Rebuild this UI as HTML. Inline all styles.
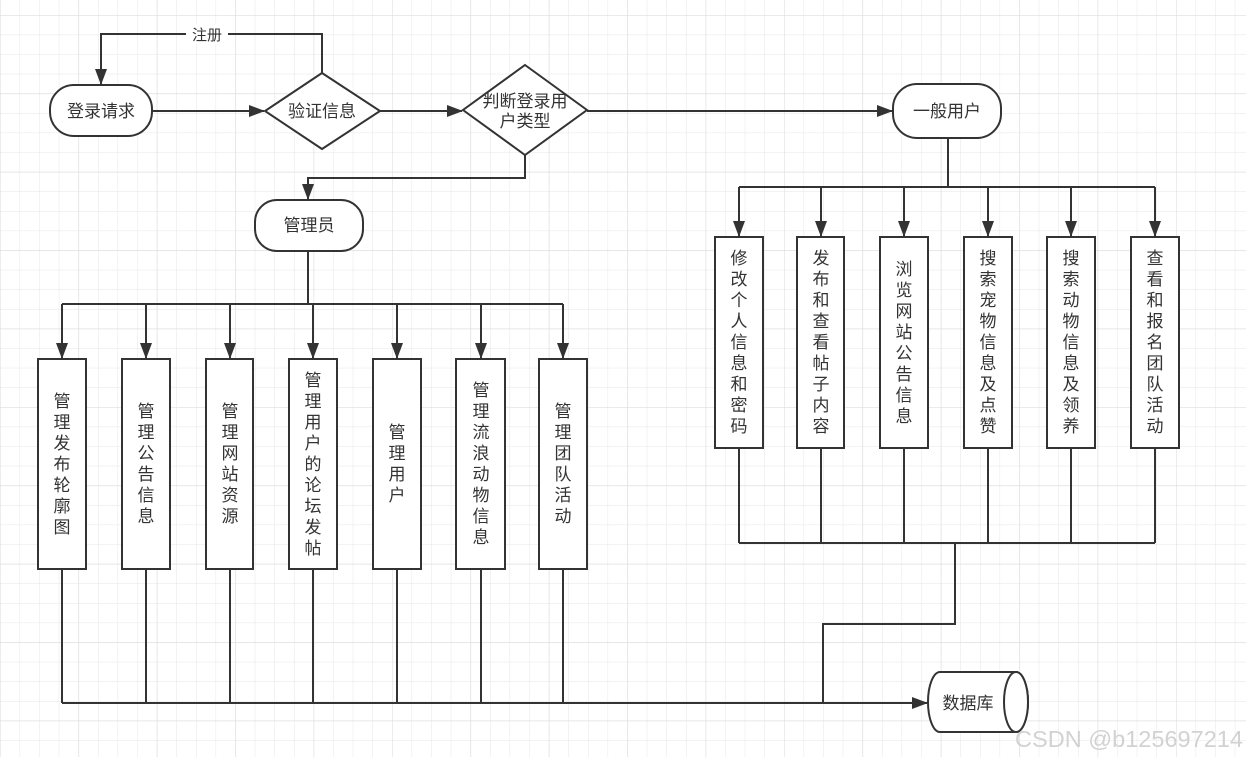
<!DOCTYPE html>
<html><head><meta charset="utf-8">
<style>
html,body{margin:0;padding:0;background:#fff;}
body{width:1246px;height:757px;position:relative;overflow:hidden;font-family:"Liberation Sans","Noto Sans CJK SC",sans-serif;}
svg{position:absolute;left:0;top:0;}
.v{position:absolute;width:48px;display:flex;align-items:center;justify-content:center;}
.v span{display:block;width:18px;font-size:17px;line-height:21px;text-align:center;color:#333;word-break:break-all;}
</style></head><body>
<svg width="1246" height="757" viewBox="0 0 1246 757" font-family="Liberation Sans, Noto Sans CJK SC, sans-serif">
<defs>
<pattern id="g" width="19.6" height="19.6" patternUnits="userSpaceOnUse" x="0" y="15">
<path d="M0 0H19.6M0 0V19.6" stroke="#e6e6e6" stroke-width="1" fill="none"/>
</pattern>
<pattern id="G" width="78.4" height="78.4" patternUnits="userSpaceOnUse" x="0" y="15">
<path d="M0 0H78.4M0 0V78.4" stroke="#dedede" stroke-width="1.2" fill="none"/>
</pattern>
<marker id="a" markerWidth="16" markerHeight="14" refX="15" refY="7" orient="auto" markerUnits="userSpaceOnUse">
<path d="M0 1L16 7L0 13Z" fill="#333"/>
</marker>
</defs>
<rect width="1246" height="757" fill="url(#g)"/>
<rect width="1246" height="757" fill="url(#G)"/>
<g stroke="#333" stroke-width="2" fill="none">
<path d="M322 73V34H101V84" marker-end="url(#a)"/>
<path d="M152 111H264" marker-end="url(#a)"/>
<path d="M380 111H462" marker-end="url(#a)"/>
<path d="M587 111H892" marker-end="url(#a)"/>
<path d="M525 155V178H308V199" marker-end="url(#a)"/>
<path d="M308 251V304"/>
<path d="M62 304H563"/>
<path d="M62 304V358" marker-end="url(#a)"/>
<path d="M146 304V358" marker-end="url(#a)"/>
<path d="M230 304V358" marker-end="url(#a)"/>
<path d="M313 304V358" marker-end="url(#a)"/>
<path d="M397 304V358" marker-end="url(#a)"/>
<path d="M481 304V358" marker-end="url(#a)"/>
<path d="M563 304V358" marker-end="url(#a)"/>
<path d="M62 569V703M146 569V703M230 569V703M313 569V703M397 569V703M481 569V703M563 569V703"/>
<path d="M62 703H927" marker-end="url(#a)"/>
<path d="M948 138V187"/>
<path d="M739 187H1155"/>
<path d="M739 187V236" marker-end="url(#a)"/>
<path d="M821 187V236" marker-end="url(#a)"/>
<path d="M904 187V236" marker-end="url(#a)"/>
<path d="M988 187V236" marker-end="url(#a)"/>
<path d="M1071 187V236" marker-end="url(#a)"/>
<path d="M1155 187V236" marker-end="url(#a)"/>
<path d="M739 448V543M821 448V543M904 448V543M988 448V543M1071 448V543M1155 448V543"/>
<path d="M739 543H1155"/>
<path d="M955 543V624H823V703"/>
</g>
<g stroke="#333" stroke-width="2" fill="#fff">
<rect x="50" y="85" width="102" height="51" rx="24"/>
<path d="M322 73L380 111L322 149L265 111Z"/>
<path d="M525 65L587 110L525 155L463 110Z"/>
<rect x="893" y="84" width="108" height="54" rx="24"/>
<rect x="255" y="200" width="108" height="51" rx="22"/>
<rect x="38" y="359" width="48" height="210"/>
<rect x="122" y="359" width="48" height="210"/>
<rect x="206" y="359" width="47" height="210"/>
<rect x="289" y="359" width="48" height="210"/>
<rect x="373" y="359" width="48" height="210"/>
<rect x="456" y="359" width="49" height="210"/>
<rect x="539" y="359" width="48" height="210"/>
<rect x="715" y="237" width="48" height="211"/>
<rect x="797" y="237" width="47" height="211"/>
<rect x="880" y="237" width="48" height="211"/>
<rect x="964" y="237" width="48" height="211"/>
<rect x="1047" y="237" width="48" height="211"/>
<rect x="1131" y="237" width="48" height="211"/>
<path d="M940 672H1016A12 30 0 0 1 1016 732H940A12 30 0 0 1 940 672Z"/>
<ellipse cx="1016" cy="702" rx="12" ry="30"/>
</g>
<rect x="186" y="24" width="42" height="20" fill="#fff"/>
<g fill="#333" font-size="17" text-anchor="middle">
<text x="207" y="40" font-size="15">注册</text>
<text x="101" y="117">登录请求</text>
<text x="322" y="117">验证信息</text>
<text x="525" y="107">判断登录用</text>
<text x="525" y="127">户类型</text>
<text x="947" y="117">一般用户</text>
<text x="309" y="231">管理员</text>
<text x="968" y="709">数据库</text>
</g>
<text x="1015" y="747" fill="#d2d2d2" font-size="23" textLength="228" lengthAdjust="spacingAndGlyphs">CSDN @b125697214</text>
</svg>
<div class="v" style="left:38px;top:359px;height:210px"><span>管理发布轮廓图</span></div>
<div class="v" style="left:122px;top:359px;height:210px"><span>管理公告信息</span></div>
<div class="v" style="left:206px;top:359px;height:210px"><span>管理网站资源</span></div>
<div class="v" style="left:289px;top:359px;height:210px"><span>管理用户的论坛发帖</span></div>
<div class="v" style="left:373px;top:359px;height:210px"><span>管理用户</span></div>
<div class="v" style="left:457px;top:359px;height:210px"><span>管理流浪动物信息</span></div>
<div class="v" style="left:539px;top:359px;height:210px"><span>管理团队活动</span></div>
<div class="v" style="left:715px;top:237px;height:211px"><span>修改个人信息和密码</span></div>
<div class="v" style="left:797px;top:237px;height:211px"><span>发布和查看帖子内容</span></div>
<div class="v" style="left:880px;top:237px;height:211px"><span>浏览网站公告信息</span></div>
<div class="v" style="left:964px;top:237px;height:211px"><span>搜索宠物信息及点赞</span></div>
<div class="v" style="left:1047px;top:237px;height:211px"><span>搜索动物信息及领养</span></div>
<div class="v" style="left:1131px;top:237px;height:211px"><span>查看和报名团队活动</span></div>
</body></html>
